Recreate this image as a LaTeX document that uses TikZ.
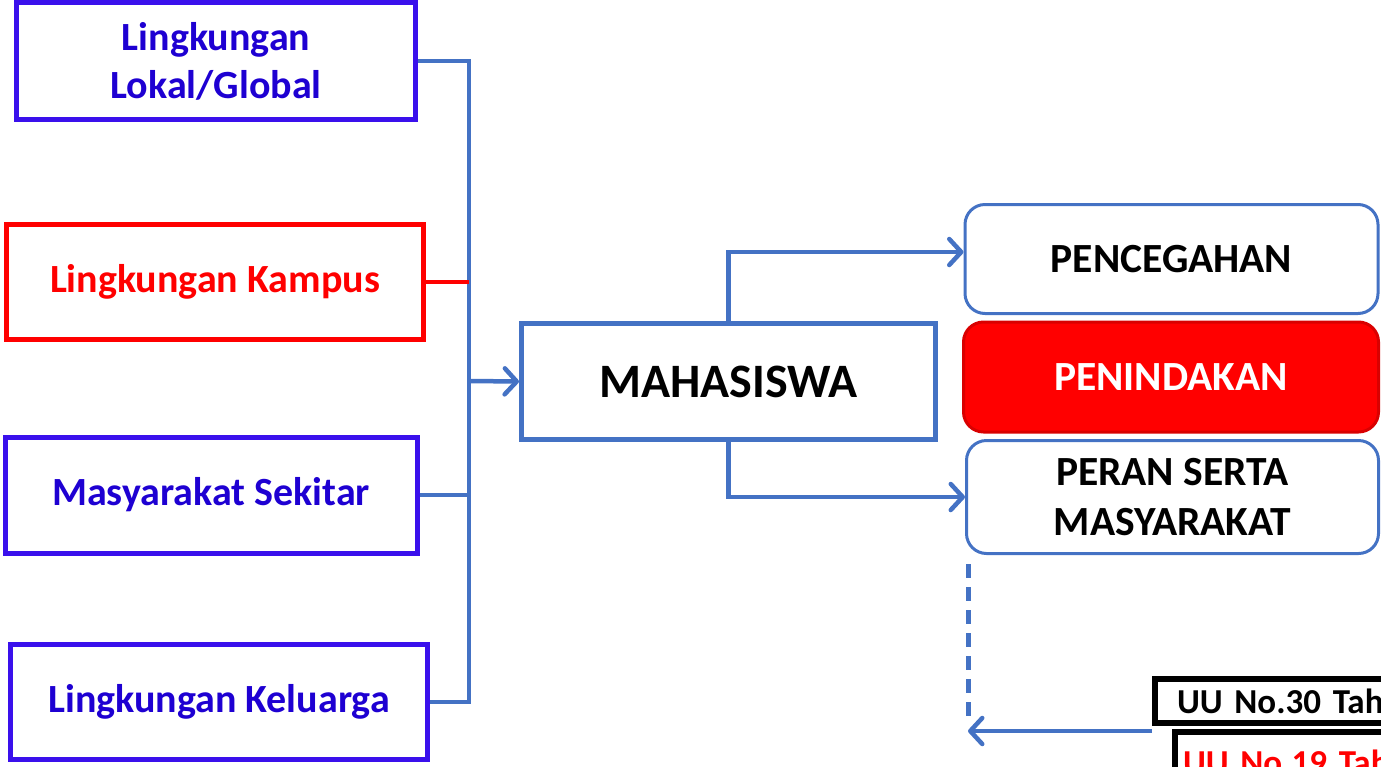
\documentclass[tikz,border=0pt]{standalone}
\usepackage{fontspec}
\setmainfont{Carlito}
\usepackage{tikz}
\usetikzlibrary{arrows.meta}

\definecolor{violetblue}{RGB}{58,16,236}
\definecolor{darkblue}{RGB}{30,0,210}
\definecolor{linkblue}{RGB}{68,114,196}
\definecolor{pureRed}{RGB}{255,0,0}

\tikzset{
  leftbox/.style={draw=violetblue, line width=5pt, text=darkblue, align=center,
    font=\fontsize{40}{48}\selectfont\bfseries},
  rightbox/.style={draw=linkblue, line width=3pt, rounded corners=20pt, align=center,
    minimum width=413pt, font=\fontsize{41.5}{50}\selectfont\bfseries},
  lawbox/.style={draw=black, line width=6pt, anchor=west, text width=220pt, inner xsep=22pt,
    align=left, font=\fontsize{35}{40}\selectfont\bfseries},
  conn/.style={draw=linkblue, line width=4.5pt},
  arr/.style={-{Straight Barb[length=12pt,width=26pt,round]}},
}

\begin{document}
\begin{tikzpicture}[x=1pt,y=-1pt]
                \useasboundingbox (0,0) rectangle (1381,766);
                \clip (0,0) rectangle (1381,766);

                \node[leftbox, minimum width=399pt, minimum height=117pt] (lokal) at (216,61) {Lingkungan\\Lokal/Global};
                \node[leftbox, draw=pureRed, text=pureRed, minimum width=417pt, minimum height=115pt] (kampus) at (215,282) {Lingkungan Kampus};
                \node[leftbox, minimum width=412pt, minimum height=116pt] (sekitar) at (211,495) {Masyarakat Sekitar};
                \node[leftbox, minimum width=417pt, minimum height=115pt] (keluarga) at (219,702) {Lingkungan Keluarga};
                \coordinate (bus) at (469,381);

                \node[draw=linkblue, line width=5pt, minimum width=414pt, minimum height=116pt,
                      font=\fontsize{48}{54}\selectfont\bfseries] (maha) at (728.5,381.5) {MAHASISWA};

                \node[rightbox, minimum height=109pt] (cegah) at (1171.5,259) {PENCEGAHAN};
                \node[rightbox, fill=pureRed, draw=pureRed!85!black, text=white, minimum width=415pt,
                      minimum height=110pt] (tindak) at (1171,377) {PENINDAKAN};
                \node[rightbox, minimum width=412pt, minimum height=113pt] (peran) at (1172.5,497) {PERAN SERTA\\MASYARAKAT};

                \node[lawbox, minimum height=44pt] (uu1) at (1152,701) {UU No.30 Tah};
                \node[lawbox, draw=black, text=pureRed, anchor=north west, inner xsep=8pt, minimum height=60pt] (uu2) at (1172,729) {UU No.19 Tah};
                \coordinate (tip) at (968,731);

                % inputs into the bus line
                \draw[conn] (lokal.east) -| (bus |- keluarga.east) -- (keluarga.east);
                \draw[conn, draw=pureRed] (kampus.east) -- (kampus.east -| bus);
                \draw[conn] (sekitar.east) -- (sekitar.east -| bus);
                \draw[conn, arr] (bus) -- (maha.west);

                % outputs
                \draw[conn, arr] (maha.north) |- ([yshift=7pt]cegah.west);
                \draw[conn, arr] (maha.south) |- (peran.west);

                \draw[conn, line width=5pt, dash pattern=on 14pt off 9pt] ([yshift=-9pt]peran.south -| tip) -- ([yshift=9pt]tip);
                \draw[conn, arr] (uu1.south west |- tip) -- (tip);
            \end{tikzpicture}
\end{document}
